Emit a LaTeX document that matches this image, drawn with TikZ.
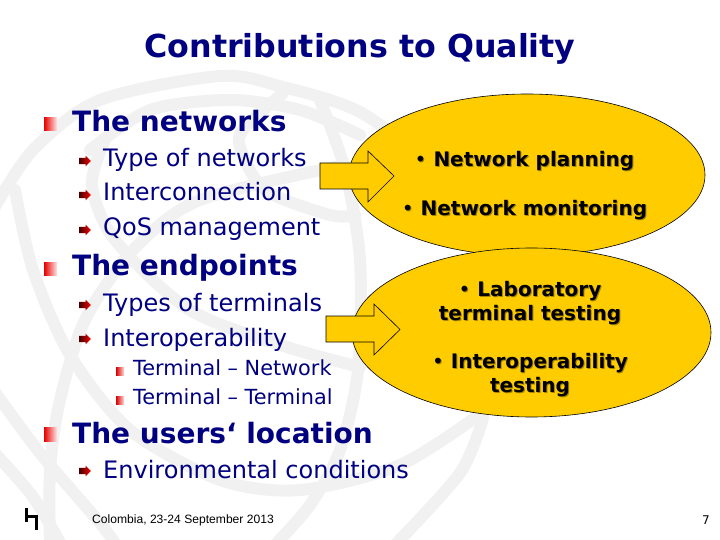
\documentclass[tikz,border=0pt]{standalone}
\usepackage{fontspec}
\setmainfont{DejaVu Sans}
\newfontfamily\footfont{Liberation Sans}
\usetikzlibrary{shapes.geometric}
\definecolor{itublue}{RGB}{0,0,128}
\definecolor{ovalyellow}{RGB}{255,204,0}
\definecolor{globegray}{RGB}{241,241,241}
\definecolor{softshadow}{RGB}{165,132,0}
\newcommand{\dropped}[1]{\makebox[0pt][l]{\hspace{1pt}\raisebox{-1pt}{\textcolor{softshadow}{#1}}}#1}
\newcommand{\ovalbullet}{{\mdseries •}}
\tikzset{
  band/.style={draw=globegray, line width=12pt, line cap=round},
  titletext/.style={anchor=base, inner sep=0pt, text=itublue, font=\fontsize{31.7}{31.7}\selectfont\bfseries},
  headtext/.style={anchor=base west, inner sep=0pt, text=itublue, font=\fontsize{28}{28}\selectfont\bfseries},
  subtext/.style={anchor=base west, inner sep=0pt, text=itublue, font=\fontsize{24}{24}\selectfont},
  subsubtext/.style={anchor=base west, inner sep=0pt, text=itublue, font=\fontsize{20.8}{20.8}\selectfont},
  ovaltext/.style={anchor=base, inner sep=0pt, text=black, font=\fontsize{20}{20}\selectfont\bfseries},
  oval/.style={ellipse, draw=black, fill=ovalyellow, line width=0.6pt, inner sep=0pt},
  blockarrow/.style={draw=black, fill=ovalyellow, line width=0.6pt, line join=miter},
  headsquare/.style={left color=red!90!black, right color=red!10!white, draw=none},
  subsquare/.style={left color=red!85!black, right color=red!15!white, draw=none},
  pics/subarrow/.style={code={
    \path[left color=black!75!red, right color=red] (-6,-3.2) -- (0.5,-3.2) -- (0.5,-5.3) -- (6,0) -- (0.5,5.3) -- (0.5,3.2) -- (-6,3.2) -- cycle;
  }},
}
\begin{document}
\begin{tikzpicture}[x=1pt, y=-1pt]
        \useasboundingbox (0,0) rectangle (720,540);
        % globe behind the slide
        \draw[band] plot[smooth] coordinates {(-8,212) (33,150) (100,100) (220,76) (283,87) (360,112) (440,170)};
        \draw[band] plot[smooth] coordinates {(90,150) (150,110) (230,100) (300,110) (360,135)};
        \draw[band] plot[smooth] coordinates {(345,165) (200,200) (133,250) (85,320) (60,400) (50,470) (50,548)};
        \draw[band] plot[smooth] coordinates {(15,190) (33,270) (70,355) (130,430) (220,480) (300,490) (400,465) (483,412)};
        \draw[band] plot[smooth] coordinates {(105,140) (92,185) (115,240) (190,310) (287,347) (360,367)};
        \draw[band] plot[smooth] coordinates {(283,93) (245,127) (240,147) (265,190) (330,215) (355,215)};
        \draw[band] plot[smooth] coordinates {(320,100) (345,170) (360,260) (358,370) (340,450) (310,505) (272,548)};
        \draw[band] plot[smooth] coordinates {(-8,388) (40,453) (100,523) (118,548)};
        \draw[band] plot[smooth] coordinates {(-8,450) (33,497) (63,548)};
        \draw[band] plot[smooth] coordinates {(483,418) (460,473) (392,548)};
        % title
        \node[titletext] (titlelabel) at (360,58) {Contributions to Quality};
        % left column
        \path[headsquare] (44,118) rectangle (57,131);
        \node[headtext] (networks) at (72,132) {The networks};
        \pic (arrowA) at (85,161) {subarrow};
        \node[subtext] (typeA) at (103,167) {Type of networks};
        \pic (arrowB) at (85,195) {subarrow};
        \node[subtext] (interconn) at (103,201) {Interconnection};
        \pic (arrowC) at (85,230) {subarrow};
        \node[subtext] (qos) at (103,236) {QoS management};
        \path[headsquare] (44,262) rectangle (57,275);
        \node[headtext] (endpoints) at (72,275) {The endpoints};
        \pic (arrowD) at (85,305) {subarrow};
        \node[subtext] (typeB) at (103,311) {Types of terminals};
        \pic (arrowE) at (85,339) {subarrow};
        \node[subtext] (interop) at (103,346) {Interoperability};
        \path[subsquare] (116,367) rectangle (124,375);
        \node[subsubtext] (termnet) at (133,375) {Terminal -- Network};
        \path[subsquare] (116,396) rectangle (124,404);
        \node[subsubtext] (termterm) at (133,404) {Terminal -- Terminal};
        \path[headsquare] (44,427) rectangle (57,441);
        \node[headtext] (users) at (72,443) {The users‘ location};
        \pic (arrowF) at (85,471) {subarrow};
        \node[subtext] (environ) at (103,478) {Environmental conditions};
        % ovals and block arrows
        \node[oval, minimum width=356pt, minimum height=162pt] (ovalA) at (527,175) {};
        \node[oval, minimum width=359pt, minimum height=169pt] (ovalB) at (531.5,332.5) {};
        \draw[blockarrow] (320,163) -- (368,163) -- (368,151) -- (394,176) -- (368,202) -- (368,189) -- (320,189) -- cycle;
        \draw[blockarrow] (326,316) -- (374,316) -- (374,304) -- (400,329.5) -- (374,355) -- (374,342) -- (326,342) -- cycle;
        \node[ovaltext] (planning) at (524.5,167) {\dropped{\ovalbullet{} Network planning}};
        \node[ovaltext] (monitoring) at (524.5,215) {\dropped{\ovalbullet{} Network monitoring}};
        \node[ovaltext] (labA) at (530,296) {\dropped{\ovalbullet{} Laboratory}};
        \node[ovaltext] (labB) at (530,320) {\dropped{terminal testing}};
        \node[ovaltext] (testA) at (530,368) {\dropped{\ovalbullet{} Interoperability}};
        \node[ovaltext] (testB) at (530,392) {\dropped{testing}};
        % footer
        \fill[black] (25,508) rectangle (28,522);
        \fill[black] (28,515) rectangle (35,518);
        \fill[black] (35,515) rectangle (38,530);
        \node[anchor=base west, inner sep=0pt, font=\footfont\fontsize{12.1}{12.1}\selectfont] (place) at (92,523) {Colombia, 23-24 September 2013};
        \node[anchor=base, inner sep=0pt, font=\fontsize{12}{12}\selectfont] (pagenum) at (706,524) {7};
\end{tikzpicture}
\end{document}
